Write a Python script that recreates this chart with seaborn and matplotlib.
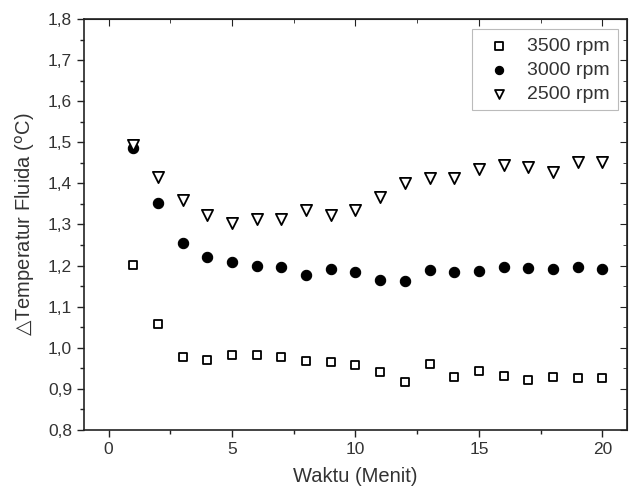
import matplotlib
matplotlib.use('Agg')
import matplotlib.pyplot as plt
from matplotlib.ticker import MultipleLocator, FuncFormatter
import seaborn as sns
import pandas as pd

# data
waktu = list(range(1, 21))
rpm_3500 = [1.201, 1.057, 0.978, 0.970, 0.982, 0.982, 0.978, 0.968, 0.965, 0.957,
            0.940, 0.916, 0.961, 0.930, 0.944, 0.931, 0.922, 0.929, 0.927, 0.926]
rpm_3000 = [1.485, 1.353, 1.254, 1.220, 1.209, 1.200, 1.197, 1.177, 1.192, 1.184,
            1.166, 1.163, 1.190, 1.184, 1.188, 1.196, 1.193, 1.192, 1.197, 1.192]
rpm_2500 = [1.494, 1.416, 1.360, 1.323, 1.304, 1.313, 1.314, 1.335, 1.322, 1.335,
            1.368, 1.400, 1.412, 1.412, 1.434, 1.445, 1.441, 1.428, 1.453, 1.453]
labels = ['3500 rpm', '3000 rpm', '2500 rpm']

sns.set_style('ticks')
plt.rcParams['font.family'] = ['Liberation Sans', 'DejaVu Sans']
plt.rcParams['text.color'] = '#333333'
plt.rcParams['axes.labelcolor'] = '#333333'
plt.rcParams['xtick.color'] = '#222222'
plt.rcParams['ytick.color'] = '#222222'
plt.rcParams['xtick.labelcolor'] = '#333333'
plt.rcParams['ytick.labelcolor'] = '#333333'

df = pd.DataFrame({'waktu': waktu * 3,
                   'suhu': rpm_3500 + rpm_3000 + rpm_2500,
                   'seri': [labels[0]] * 20 + [labels[1]] * 20 + [labels[2]] * 20})

fig = plt.figure(figsize=(6.33, 4.93), dpi=100)
ax = fig.add_axes([0.1327, 0.1278, 0.8578, 0.8337])

styles = {
    '3500 rpm': dict(marker='s', s=40, facecolor='white', edgecolor='black', linewidth=1.3),
    '3000 rpm': dict(marker='o', s=55, facecolor='black', edgecolor='black', linewidth=0.8),
    '2500 rpm': dict(marker='v', s=65, facecolor='white', edgecolor='black', linewidth=1.3),
}
for lab in labels:
    sns.scatterplot(data=df[df['seri'] == lab], x='waktu', y='suhu', ax=ax,
                    label=lab, zorder=3, **styles[lab])

ax.set_xlim(-1, 21)
ax.set_ylim(0.8, 1.8)
ax.xaxis.set_major_locator(MultipleLocator(5))
ax.xaxis.set_minor_locator(MultipleLocator(2.5))
ax.yaxis.set_major_locator(MultipleLocator(0.1))
ax.yaxis.set_minor_locator(MultipleLocator(0.05))
ax.yaxis.set_major_formatter(FuncFormatter(lambda v, p: f'{v:.1f}'.replace('.', ',')))

ax.tick_params(which='both', direction='out', top=False, right=False,
               labelsize=12.5, width=1)
ax.tick_params(which='major', length=5)
ax.tick_params(which='minor', length=3)

# mirrored ticks pointing inward on top and right
axt = ax.secondary_xaxis('top')
axt.xaxis.set_major_locator(MultipleLocator(5))
axt.xaxis.set_minor_locator(MultipleLocator(2.5))
axt.tick_params(which='both', direction='in', labeltop=False)
axt.tick_params(which='major', length=5)
axt.tick_params(which='minor', length=3)
axr = ax.secondary_yaxis('right')
axr.yaxis.set_major_locator(MultipleLocator(0.1))
axr.yaxis.set_minor_locator(MultipleLocator(0.05))
axr.tick_params(which='both', direction='in', labelright=False)
axr.tick_params(which='major', length=5)
axr.tick_params(which='minor', length=3)

for sp in ax.spines.values():
    sp.set_linewidth(1.2)
    sp.set_color('#222222')

ax.set_xlabel('Waktu (Menit)', fontsize=14.5, labelpad=7)
ax.set_ylabel('$\\bigtriangleup$Temperatur Fluida ($^{\\mathrm{o}}$C)', fontsize=14.5, labelpad=8)

leg = ax.legend(loc='upper right', bbox_to_anchor=(0.983, 0.975), fontsize=14,
                frameon=True, fancybox=False, edgecolor='#aaaaaa',
                handlelength=2.0, handletextpad=0.45, borderpad=0.4,
                labelspacing=0.33, borderaxespad=0, markerscale=0.8)
leg.get_frame().set_linewidth(0.8)

plt.savefig('out.png', dpi=100)
plt.close()
